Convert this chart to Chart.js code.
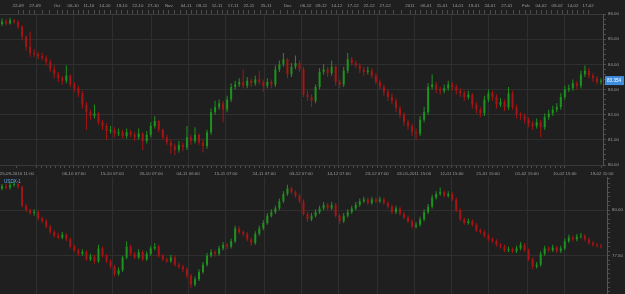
<!DOCTYPE html>
<html><head><meta charset="utf-8">
<script src="https://cdn.jsdelivr.net/npm/chart.js@4.4.1/dist/chart.umd.min.js"></script>
<style>
html,body{margin:0;padding:0;background:#1f1f1f;width:625px;height:294px;overflow:hidden}
#w1{position:absolute;left:0;top:0;width:625px;height:177px}
#w2{position:absolute;left:0;top:177px;width:625px;height:117px}
canvas{display:block}
</style></head><body>
<div id="w1"><canvas id="c1" width="625" height="177"></canvas></div>
<div id="w2"><canvas id="c2" width="625" height="117"></canvas></div>
<script>
// ---------- upper panel (USDJPY-like) OHLC ----------
const upperOpen = [85.60,85.70,85.62,85.75,85.68,85.50,85.10,84.70,84.45,84.40,
 84.32,84.25,84.10,83.80,83.60,83.45,83.35,83.55,83.20,83.05,
 82.85,82.40,82.10,81.95,82.05,81.70,81.55,81.35,81.40,81.25,
 81.30,81.15,81.30,81.20,81.10,81.25,80.95,81.20,81.55,81.75,
 81.40,81.10,80.90,80.75,80.60,80.80,80.70,81.10,80.95,81.20,
 80.90,80.75,81.30,82.10,82.30,82.45,82.20,82.60,83.10,83.20,
 83.30,83.15,83.35,83.25,83.40,83.30,83.15,83.30,83.20,83.80,
 84.00,84.20,83.60,83.90,84.05,83.80,82.80,82.70,82.55,83.10,
 83.70,83.80,83.65,83.90,83.30,83.20,83.75,84.20,84.05,83.95,
 83.80,83.70,83.75,83.55,83.30,83.10,82.90,82.70,82.55,82.25,
 82.00,81.70,81.55,81.30,81.25,81.80,82.10,83.10,83.20,83.00,
 82.95,83.05,83.20,83.10,82.95,82.85,82.70,82.80,82.40,82.20,
 82.05,82.60,82.85,82.70,82.40,82.50,82.30,82.85,82.30,82.00,
 81.95,81.80,81.65,81.55,81.70,81.50,81.90,82.05,82.20,82.30,
 82.70,83.00,83.05,83.25,83.15,83.60,83.75,83.55,83.45,83.30];
const upperHigh = [85.82,85.80,85.85,85.80,85.75,85.55,85.15,85.30,84.60,84.50,
 84.45,84.35,84.20,83.95,83.70,83.55,83.95,83.60,83.30,83.15,
 82.95,82.50,82.20,82.40,82.10,81.80,81.65,81.55,81.50,81.45,
 81.40,81.45,81.40,81.30,81.45,81.30,81.35,81.70,81.95,81.80,
 81.45,81.20,81.00,80.85,80.95,80.90,81.55,81.20,81.50,81.25,
 81.00,81.40,82.25,82.55,82.60,82.55,82.75,83.25,83.35,83.45,
 83.80,83.50,83.45,83.55,83.75,83.40,83.45,83.40,83.95,84.15,
 84.45,84.25,84.05,84.35,84.15,83.90,82.95,82.80,83.20,83.85,
 84.00,83.90,84.15,83.95,83.40,83.90,84.45,84.30,84.15,84.05,
 83.90,83.90,83.85,83.65,83.40,83.20,83.00,82.85,82.65,82.35,
 82.10,81.80,81.65,81.45,81.95,82.30,83.25,83.60,83.30,83.10,
 83.20,83.35,83.30,83.20,83.05,82.95,82.95,82.85,82.50,82.30,
 82.75,83.00,82.95,82.80,82.65,82.60,83.10,82.95,82.40,82.10,
 82.05,81.90,81.75,81.85,81.80,82.05,82.20,82.35,82.45,82.85,
 83.15,83.20,83.40,83.35,83.75,83.95,83.85,83.65,83.55,83.45];
const upperLow = [85.52,85.55,85.58,85.60,85.40,84.95,84.55,84.30,84.30,84.20,
 84.15,83.95,83.70,83.45,83.30,83.20,83.25,83.10,82.90,82.70,
 82.25,81.40,81.80,81.85,81.60,81.40,81.00,81.25,81.10,81.15,
 81.05,81.05,81.10,80.95,81.00,80.60,80.85,81.10,81.45,81.30,
 81.00,80.80,80.45,80.40,80.50,80.55,80.60,80.80,80.85,80.80,
 80.50,80.65,81.20,82.00,82.20,81.70,82.10,82.50,83.00,83.10,
 83.05,83.05,83.10,83.15,83.20,82.90,83.05,83.05,83.10,83.70,
 83.90,83.45,83.50,83.80,83.70,82.70,82.55,82.30,82.45,83.00,
 83.60,83.50,83.55,83.15,83.05,83.10,83.65,83.95,83.85,83.65,
 83.55,83.60,83.45,83.20,83.00,82.75,82.55,82.40,82.10,81.85,
 81.55,81.40,81.15,81.00,81.15,81.70,82.00,83.00,82.85,82.80,
 82.85,82.95,82.95,82.80,82.70,82.55,82.60,82.25,82.05,81.90,
 81.95,82.50,82.55,82.25,82.30,82.15,82.20,82.20,81.85,81.80,
 81.65,81.50,81.40,81.45,81.10,81.40,81.80,81.95,82.10,82.20,
 82.60,82.90,82.95,83.00,83.05,83.50,83.45,83.30,83.20,83.20];
const upperClose = [85.70,85.62,85.75,85.68,85.50,85.10,84.70,84.45,84.40,84.32,
 84.25,84.10,83.80,83.60,83.45,83.35,83.55,83.20,83.05,82.85,
 82.40,82.10,81.95,82.05,81.70,81.55,81.35,81.40,81.25,81.30,
 81.15,81.30,81.20,81.10,81.25,80.95,81.20,81.55,81.75,81.40,
 81.10,80.90,80.75,80.60,80.80,80.70,81.10,80.95,81.20,80.90,
 80.75,81.30,82.10,82.30,82.45,82.20,82.60,83.10,83.20,83.30,
 83.15,83.35,83.25,83.40,83.30,83.15,83.30,83.20,83.80,84.00,
 84.20,83.60,83.90,84.05,83.80,82.80,82.70,82.55,83.10,83.70,
 83.80,83.65,83.90,83.30,83.20,83.75,84.20,84.05,83.95,83.80,
 83.70,83.75,83.55,83.30,83.10,82.90,82.70,82.55,82.25,82.00,
 81.70,81.55,81.30,81.25,81.80,82.10,83.10,83.20,83.00,82.95,
 83.05,83.20,83.10,82.95,82.85,82.70,82.80,82.40,82.20,82.05,
 82.60,82.85,82.70,82.40,82.50,82.30,82.85,82.30,82.00,81.95,
 81.80,81.65,81.55,81.70,81.50,81.90,82.05,82.20,82.30,82.70,
 83.00,83.05,83.25,83.15,83.60,83.75,83.55,83.45,83.30,83.354];

// ---------- lower panel (USDX-1) OHLC ----------
const lowerSymbol = 'USDX-1';
const lowerOpen = [81.20,81.33,81.25,81.40,81.45,81.30,80.25,80.00,79.85,79.90,
 79.55,79.40,79.10,78.80,78.60,78.50,78.65,78.40,78.00,77.80,
 77.60,77.70,77.30,77.45,77.20,77.90,77.50,77.20,76.90,76.50,
 76.70,77.40,78.00,77.60,77.40,77.70,77.30,77.60,77.90,78.00,
 77.50,77.30,77.20,77.40,77.00,76.90,76.75,76.40,75.90,76.20,
 76.60,77.00,77.50,77.70,77.60,77.90,78.10,78.00,78.30,79.00,
 78.80,78.70,78.40,78.20,78.70,79.00,79.30,79.70,79.90,80.10,
 80.50,80.90,81.20,81.00,80.80,80.50,79.80,79.50,79.70,79.90,
 80.10,80.30,80.10,80.30,79.70,79.40,79.70,79.90,80.10,80.30,
 80.50,80.60,80.40,80.60,80.50,80.60,80.40,80.20,79.90,80.10,
 79.80,79.60,79.40,79.10,79.20,79.50,79.90,80.20,80.70,80.90,
 81.00,80.80,80.90,80.60,80.00,79.50,79.30,79.40,79.20,78.90,
 78.80,78.60,78.40,78.30,78.10,78.00,77.80,77.85,77.75,77.90,
 78.10,77.80,77.30,76.90,77.00,77.60,77.90,77.80,77.95,77.75,
 77.90,78.30,78.50,78.40,78.55,78.60,78.40,78.20,78.10,78.05];
const lowerHigh = [81.45,81.45,81.55,81.58,81.55,81.35,80.35,80.10,80.05,80.00,
 79.65,79.50,79.20,78.90,78.75,78.80,78.75,78.50,78.10,77.90,
 77.85,77.80,77.60,77.55,78.10,78.00,77.60,77.30,77.00,76.85,
 77.50,78.30,78.10,77.70,77.85,77.80,77.75,78.05,78.20,78.10,
 77.60,77.40,77.55,77.50,77.10,77.00,76.85,76.50,76.35,76.75,
 77.15,77.65,77.85,77.80,78.05,78.25,78.20,78.45,79.15,79.10,
 78.90,78.80,78.50,78.85,79.15,79.45,79.85,80.05,80.25,80.65,
 81.05,81.40,81.30,81.10,80.90,80.60,79.90,79.85,80.05,80.25,
 80.45,80.40,80.45,80.40,79.80,79.85,80.05,80.25,80.45,80.65,
 80.75,80.70,80.75,80.70,80.75,80.70,80.50,80.30,80.25,80.20,
 79.90,79.70,79.50,79.35,79.65,80.05,80.35,80.85,81.05,81.25,
 81.10,81.05,81.00,80.70,80.10,79.60,79.55,79.50,79.30,79.00,
 78.90,78.70,78.50,78.40,78.20,78.10,78.00,77.95,78.05,78.25,
 78.20,77.90,77.40,77.15,77.75,78.05,78.00,78.10,78.05,78.05,
 78.45,78.65,78.60,78.70,78.75,78.70,78.50,78.30,78.20,78.15];
const lowerLow = [81.10,81.15,81.15,81.30,81.20,80.15,79.90,79.75,79.70,79.45,
 79.30,79.00,78.70,78.50,78.40,78.40,78.30,77.90,77.70,77.50,
 77.50,77.20,77.20,77.05,77.10,77.40,77.10,76.80,76.35,76.40,
 76.60,77.30,77.50,77.30,77.30,77.20,77.20,77.50,77.80,77.40,
 77.20,77.10,77.10,76.90,76.80,76.60,76.25,75.70,75.80,76.10,
 76.50,76.90,77.40,77.45,77.50,77.80,77.85,77.90,78.20,78.70,
 78.55,78.30,78.05,78.10,78.60,78.90,79.20,79.60,79.80,80.00,
 80.40,80.80,80.90,80.70,80.40,79.70,79.35,79.40,79.60,79.80,
 80.00,80.00,80.00,79.60,79.25,79.30,79.60,79.80,80.00,80.20,
 80.40,80.30,80.30,80.40,80.40,80.30,80.10,79.80,79.80,79.70,
 79.50,79.30,79.00,79.00,79.10,79.40,79.80,80.10,80.60,80.80,
 80.70,80.70,80.50,79.90,79.40,79.20,79.20,79.10,78.80,78.70,
 78.50,78.30,78.20,78.00,77.90,77.70,77.70,77.65,77.65,77.80,
 77.70,77.20,76.75,76.80,76.90,77.50,77.70,77.70,77.65,77.65,
 77.80,78.20,78.30,78.30,78.45,78.30,78.10,78.00,77.95,77.90];
const lowerClose = [81.33,81.25,81.40,81.45,81.30,80.25,80.00,79.85,79.90,79.55,
 79.40,79.10,78.80,78.60,78.50,78.65,78.40,78.00,77.80,77.60,
 77.70,77.30,77.45,77.20,77.90,77.50,77.20,76.90,76.50,76.70,
 77.40,78.00,77.60,77.40,77.70,77.30,77.60,77.90,78.00,77.50,
 77.30,77.20,77.40,77.00,76.90,76.75,76.40,75.90,76.20,76.60,
 77.00,77.50,77.70,77.60,77.90,78.10,78.00,78.30,79.00,78.80,
 78.70,78.40,78.20,78.70,79.00,79.30,79.70,79.90,80.10,80.50,
 80.90,81.20,81.00,80.80,80.50,79.80,79.50,79.70,79.90,80.10,
 80.30,80.10,80.30,79.70,79.40,79.70,79.90,80.10,80.30,80.50,
 80.60,80.40,80.60,80.50,80.60,80.40,80.20,79.90,80.10,79.80,
 79.60,79.40,79.10,79.20,79.50,79.90,80.20,80.70,80.90,81.00,
 80.80,80.90,80.60,80.00,79.50,79.30,79.40,79.20,78.90,78.80,
 78.60,78.40,78.30,78.10,78.00,77.80,77.85,77.75,77.90,78.10,
 77.80,77.30,76.90,77.00,77.60,77.90,77.80,77.95,77.75,77.90,
 78.30,78.50,78.40,78.55,78.60,78.40,78.20,78.10,78.05,78.00];

// ---------- axis labels (positions in candle-index units) ----------
const upperTickLabels = ["22-09","27-09","Oct","06-10","11-10","14-10","19-10","22-10","27-10","Nov",
 "04-11","09-11","12-11","17-11","22-11","25-11","Dec","06-12","09-12","14-12",
 "17-12","22-12","27-12","2011","06-01","11-01","14-01","19-01","24-01","27-01",
 "Feb","04-02","09-02","14-02","17-02"];
const upperTickPos = [4.0,8.2,13.7,17.7,21.6,25.6,29.8,33.8,37.6,41.5,
 45.8,49.7,53.5,57.5,61.4,65.7,71.1,75.6,79.4,83.3,
 87.3,91.3,95.3,101.5,105.5,109.5,113.4,117.4,121.4,125.6,
 130.3,134.1,138.1,142.0,145.8];
const timeLabels = ["25-09-2010 11:00","06-10 07:00","15-10 07:00","26-10 07:00","04-11 06:00","15-11 07:00",
 "24-11 07:00","03-12 07:00","14-12 07:00","23-12 07:00","03-01-2011 15:00","12-01 15:00",
 "21-01 15:00","01-02 15:00","10-02 15:00","19-02 11:00"];
const timeLabelPos = [3.7,17.9,27.4,37.1,46.3,55.7,65.2,74.4,83.8,93.3,102.5,111.9,120.9,130.6,140.0,149.2];
const gridPos = [8.7,17.9,27.4,37.1,46.3,55.7,65.2,74.4,83.8,93.3,102.5,111.9,120.9,130.6,140.0];
const upperPriceTicks = [80,81,82,83,84,85,86];
const lowerPriceTicks = [77.5,80];
const lowerMin = 75.389, lowerMax = 81.833;

// ---------- styling ----------
const UP = '#1e921e', DOWN = '#a51515';
const FONT = {family: "'Liberation Sans', Arial, sans-serif", size: 4.4};
const TXT = '#9c9c9c', GRID = '#2f2f2f', RULE = '#4c4c4c';

function candleSets(open, high, low, close) {
  const col = ctx => close[ctx.dataIndex] >= open[ctx.dataIndex] ? UP : DOWN;
  return [
    {data: close.map((c, i) => ({x: i, y: [open[i], c]})), backgroundColor: col, barThickness: 2,
     minBarLength: 1, grouped: false, order: 0, borderWidth: 0, inflateAmount: 0},
    {data: close.map((c, i) => ({x: i, y: [low[i], high[i]]})), backgroundColor: col, barThickness: 1,
     grouped: false, order: 1, borderWidth: 0, inflateAmount: 0}
  ];
}
function subdivide(pos, parts) {
  const out = [];
  for (let k = 0; k < pos.length; k++) {
    out.push(pos[k]);
    if (k < pos.length - 1) for (let j = 1; j < parts; j++) out.push(pos[k] + (pos[k + 1] - pos[k]) * j / parts);
  }
  return out;
}
function setTicks(values) {
  const vals = [...new Set(values)].sort((a, b) => a - b);
  return scale => { scale.ticks = vals.map(v => ({value: v})); };
}
const topMap = new Map(upperTickPos.map((p, i) => [p, upperTickLabels[i]]));
const timeMap = new Map(timeLabelPos.map((p, i) => [p, timeLabels[i]]));
const gridSet = new Set(gridPos);
const upperYMap = new Map(upperPriceTicks.map(v => [v, v.toFixed(2)]));
const lowerYMap = new Map(lowerPriceTicks.map(v => [v, v.toFixed(2)]));

const upperYRuler = [];
for (let k = 0; k <= 30; k++) upperYRuler.push(80 + k / 5);
const lowerYRuler = [];
for (let k = 0; k <= 25; k++) lowerYRuler.push(75.5 + k * 0.25);

const priceTag = {
  id: 'priceTag',
  afterDraw(chart) {
    const s = chart.scales.y, v = upperClose[upperClose.length - 1];
    const y = s.getPixelForValue(v), ctx = chart.ctx, x0 = chart.chartArea.right + 2;
    ctx.save();
    ctx.fillStyle = '#3d8ee0';
    ctx.fillRect(x0, y - 4.5, chart.width - x0 - 1, 9);
    ctx.fillStyle = '#ffffff';
    ctx.font = "4.6px 'Liberation Sans', Arial, sans-serif";
    ctx.textAlign = 'left'; ctx.textBaseline = 'middle';
    ctx.fillText(v.toFixed(3), x0 + 2, y + 0.5);
    ctx.restore();
  }
};
const symbolTag = {
  id: 'symbolTag',
  afterDraw(chart) {
    const ctx = chart.ctx;
    ctx.save();
    ctx.fillStyle = '#5aa8f0';
    ctx.font = "4.6px 'Liberation Sans', Arial, sans-serif";
    ctx.textAlign = 'left'; ctx.textBaseline = 'middle';
    ctx.fillText(lowerSymbol, chart.chartArea.left + 4, chart.chartArea.top + 5);
    ctx.restore();
  }
};

const common = {
  responsive: false, maintainAspectRatio: false, devicePixelRatio: 1, animation: false,
  layout: {padding: 0},
  plugins: {legend: {display: false}, tooltip: {enabled: false}}
};

new Chart(document.getElementById('c1'), {
  type: 'bar',
  data: {datasets: candleSets(upperOpen, upperHigh, upperLow, upperClose)},
  options: Object.assign({}, common, {
    scales: {
      x: {type: 'linear', position: 'top', min: -0.5, max: 149.5, offset: false,
        afterBuildTicks: setTicks(subdivide(upperTickPos, 3)),
        afterFit: s => { s.height = 14; s.paddingLeft = 0; s.paddingRight = 0; },
        ticks: {autoSkip: false, maxRotation: 0, minRotation: 0, padding: 2, color: TXT, font: FONT,
          callback: v => topMap.get(v) ?? ''},
        grid: {offset: false, drawOnChartArea: false, drawTicks: true, tickLength: 4, tickColor: RULE, color: RULE},
        border: {display: true, color: '#3a3a3a'}},
      xb: {type: 'linear', position: 'bottom', min: -0.5, max: 149.5, offset: false,
        afterBuildTicks: setTicks(subdivide(gridPos, 8).concat(timeLabelPos)),
        afterFit: s => { s.height = 12; s.paddingLeft = 0; s.paddingRight = 0; },
        ticks: {autoSkip: false, maxRotation: 0, minRotation: 0, padding: 3, color: TXT, font: FONT,
          callback: v => timeMap.get(v) ?? ''},
        grid: {offset: false, drawTicks: true, tickLength: 3, tickColor: RULE,
          color: ctx => (ctx.tick && gridSet.has(ctx.tick.value)) ? GRID : 'rgba(0,0,0,0)'},
        border: {display: true, color: '#3a3a3a'}},
      y: {type: 'linear', position: 'right', min: 80, max: 86,
        afterBuildTicks: setTicks(upperYRuler),
        afterFit: s => { s.width = 22; s.paddingTop = 0; s.paddingBottom = 0; },
        ticks: {autoSkip: false, padding: 2, color: TXT, font: FONT, callback: v => upperYMap.get(v) ?? ''},
        grid: {drawTicks: true, tickLength: 3, tickColor: RULE,
          color: ctx => (ctx.tick && upperYMap.has(ctx.tick.value)) ? GRID : 'rgba(0,0,0,0)'},
        border: {display: true, color: '#555555'}}
    }
  }),
  plugins: [priceTag]
});

new Chart(document.getElementById('c2'), {
  type: 'bar',
  data: {datasets: candleSets(lowerOpen, lowerHigh, lowerLow, lowerClose)},
  options: Object.assign({}, common, {
    scales: {
      x: {type: 'linear', position: 'bottom', min: -0.5, max: 150.5, offset: false,
        afterBuildTicks: setTicks(gridPos),
        afterFit: s => { s.height = 0; s.paddingLeft = 0; s.paddingRight = 0; },
        ticks: {display: false},
        grid: {offset: false, drawTicks: false, color: GRID},
        border: {display: false}},
      y: {type: 'linear', position: 'right', min: lowerMin, max: lowerMax,
        afterBuildTicks: setTicks(lowerYRuler),
        afterFit: s => { s.width = 18; s.paddingTop = 0; s.paddingBottom = 0; },
        ticks: {autoSkip: false, padding: 2, color: TXT, font: FONT, callback: v => lowerYMap.get(v) ?? ''},
        grid: {drawTicks: true, tickLength: 3, tickColor: RULE,
          color: ctx => (ctx.tick && lowerYMap.has(ctx.tick.value)) ? GRID : 'rgba(0,0,0,0)'},
        border: {display: true, color: '#555555'}}
    }
  }),
  plugins: [symbolTag]
});
</script>
</body></html>
